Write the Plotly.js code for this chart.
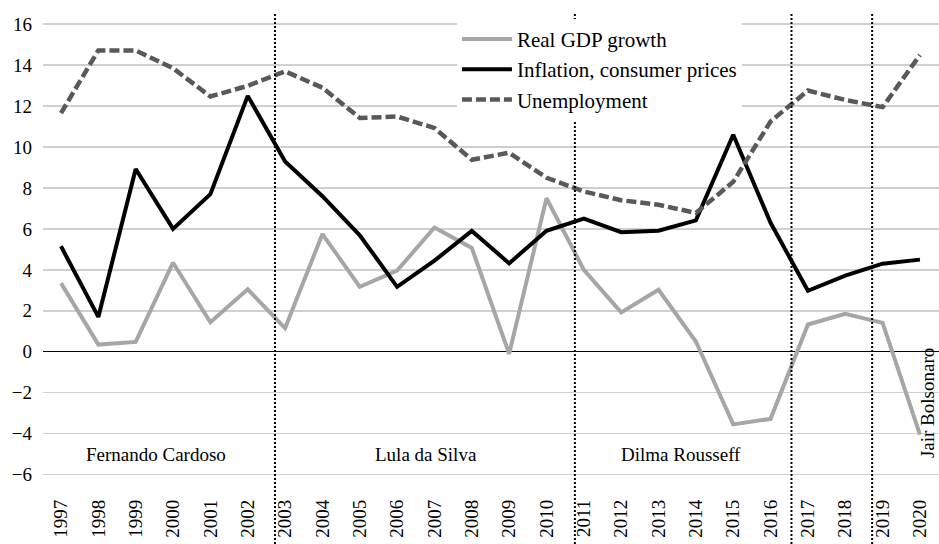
<!DOCTYPE html>
<html>
<head>
<meta charset="utf-8">
<script src="https://cdn.plot.ly/plotly-3.0.1.min.js"></script>
<style>
html,body{margin:0;padding:0;background:#fff;}
#chart{width:939px;height:544px;}
#chart text{font-family:'Liberation Serif','Times New Roman',serif !important;}
</style>
</head>
<body>
<div id="chart"></div>
<script>
const years = [1997,1998,1999,2000,2001,2002,2003,2004,2005,2006,2007,2008,2009,2010,2011,2012,2013,2014,2015,2016,2017,2018,2019,2020];
const gdpGrowth = [3.35,0.35,0.48,4.35,1.44,3.05,1.15,5.75,3.17,3.96,6.07,5.07,-0.1,7.5,4.0,1.92,3.03,0.5,-3.55,-3.28,1.33,1.85,1.41,-4.05];
const inflation = [5.15,1.7,8.93,6.0,7.7,12.5,9.3,7.6,5.69,3.17,4.45,5.9,4.32,5.91,6.5,5.84,5.91,6.42,10.6,6.3,2.98,3.72,4.3,4.5];
const unemployment = [11.66,14.72,14.72,13.85,12.47,12.99,13.7,12.9,11.42,11.49,10.93,9.38,9.72,8.5,7.83,7.4,7.18,6.78,8.3,11.25,12.76,12.3,11.95,14.5];
const seriesNames = ['Real GDP growth','Inflation, consumer prices','Unemployment'];
const yTicks = [-6,-4,-2,0,2,4,6,8,10,12,14,16];
const yTickText = ['\u22126','\u22124','\u22122','0','2','4','6','8','10','12','14','16'];
const presidentChanges = [2002.73,2010.76,2016.56,2018.72];
const presidents = ['Fernando Cardoso','Lula da Silva','Dilma Rousseff','Jair Bolsonaro'];
const presidentLabelX = [1999.54,2006.76,2013.6,2020.22];

const FONT = 'Liberation Serif';

const traces = [
  {x: years, y: gdpGrowth, name: seriesNames[0], type: 'scatter', mode: 'lines',
   line: {color: '#a6a6a6', width: 4}},
  {x: years, y: inflation, name: seriesNames[1], type: 'scatter', mode: 'lines',
   line: {color: '#000000', width: 4}},
  {x: years, y: unemployment, name: seriesNames[2], type: 'scatter', mode: 'lines',
   line: {color: '#595959', width: 4.5, dash: '10px,4px'}}
];

const shapes = presidentChanges.map(v => ({
  type: 'line', xref: 'x', yref: 'paper', x0: v, x1: v, y0: -0.11, y1: 1,
  line: {color: '#000', width: 2, dash: '2px,2px'}, layer: 'above'
}));

const annotations = presidents.map((p, i) => {
  const a = {text: p, x: presidentLabelX[i], y: -5, xref: 'x', yref: 'y',
    showarrow: false, font: {family: FONT, size: 19, color: '#000'}};
  if (i === 3) { a.textangle = -90; a.y = -2.5; }
  return a;
});

const layout = {
  width: 939, height: 544,
  margin: {l: 43, r: 0, t: 14, b: 48.5},
  paper_bgcolor: '#fff', plot_bgcolor: '#fff',
  font: {family: FONT, size: 19, color: '#000'},
  showlegend: true,
  legend: {x: 0.462, xanchor: 'left', y: 0.99, yanchor: 'top', bgcolor: '#fff',
    borderwidth: 0, font: {family: FONT, size: 21, color: '#000'}, itemwidth: 50,
    tracegroupgap: 0},
  xaxis: {range: [1996.518, 2020.51], tickvals: years, ticktext: years.map(String),
    tickangle: -90, showgrid: false, zeroline: false, showline: false, ticks: '',
    ticklabelstandoff: 0,
    tickfont: {family: FONT, size: 19, color: '#000'}, fixedrange: true},
  yaxis: {range: [-7, 16.5], tickvals: yTicks, ticktext: yTickText,
    showgrid: true, gridcolor: '#d0d0d0', gridwidth: 1.5,
    zeroline: true, zerolinecolor: '#000', zerolinewidth: 1.2,
    showline: false, ticks: '', ticklabelstandoff: 10,
    tickfont: {family: FONT, size: 19, color: '#000'}, fixedrange: true},
  shapes: shapes,
  annotations: annotations
};

Plotly.newPlot('chart', traces, layout, {displayModeBar: false, staticPlot: true});
</script>
</body>
</html>
